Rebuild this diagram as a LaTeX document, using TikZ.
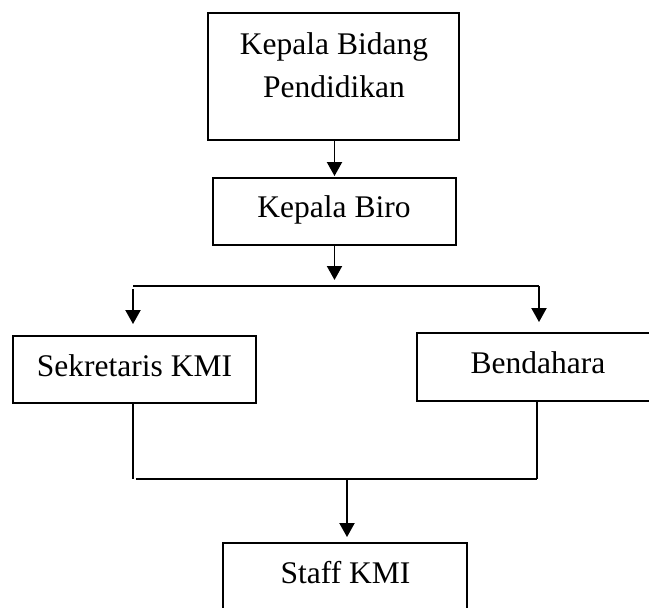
\documentclass[tikz,border=0pt]{standalone}
\usepackage{fontspec}
\setmainfont{Liberation Serif}
\usetikzlibrary{arrows.meta}
\begin{document}
\begin{tikzpicture}[x=1pt, y=-1pt,
  line width=1.9pt,
  box/.style={draw, line width=1.9pt, inner sep=0pt, rectangle},
  txt/.style={inner sep=0pt, font=\fontsize{31.5}{43}\selectfont, align=center},
  arr/.style={-{Triangle[length=14pt, width=15pt]}}]
  % canvas
  \useasboundingbox (0,0) rectangle (649,608);
  \fill[white] (0,0) rectangle (649,608);
  \clip (0,0) rectangle (649,608);

  % boxes
  \node[box, minimum width=251pt, minimum height=127pt] (kbp) at (333.5,76.5) {};
  \node[box, minimum width=243pt, minimum height=67pt] (kb) at (334.5,211.5) {};
  \node[box, minimum width=243pt, minimum height=67pt] (sek) at (134.5,369.5) {};
  \node[box, minimum width=273pt, minimum height=68pt] (ben) at (553.5,367) {};
  \node[box, minimum width=244pt, minimum height=97pt] (stf) at (345,591.5) {};

  % labels
  \node[txt, anchor=north] (tkbp) at (334,31.5) {Kepala Bidang\\Pendidikan};
  \node[txt, anchor=base] (tkb) at (334,217) {Kepala Biro};
  \node[txt, anchor=base] (tsek) at (134.5,376) {Sekretaris KMI};
  \node[txt, anchor=base] (tben) at (538,373) {Bendahara};
  \node[txt, anchor=base] (tstf) at (345.5,583) {Staff KMI};

  % junction points
  \coordinate (hl) at (133,286);
  \coordinate (hr) at (539,286);
  \coordinate (jl) at (133,479);
  \coordinate (jr) at (537,479);
  \coordinate (jm) at (347,479);

  % connectors
  \draw[arr, shorten >=1pt] (kb.north |- kbp.south) -- (kb.north);
  \draw[arr, shorten >=6pt] (kb.south) -- (kb.south |- hl);
  \draw (hl) -- (hr);
  \draw[arr, shorten <=3pt, shorten >=11pt] (hl) -- (hl |- sek.north);
  \draw[arr, shorten >=10pt] (hr) -- (hr |- ben.north);
  \draw (jl |- sek.south) -- (jl);
  \draw ([xshift=3pt]jl) -- (jr);
  \draw (jr |- ben.south) -- (jr);
  \draw[arr, shorten >=5pt] (jm) -- (jm |- stf.north);
\end{tikzpicture}
\end{document}
